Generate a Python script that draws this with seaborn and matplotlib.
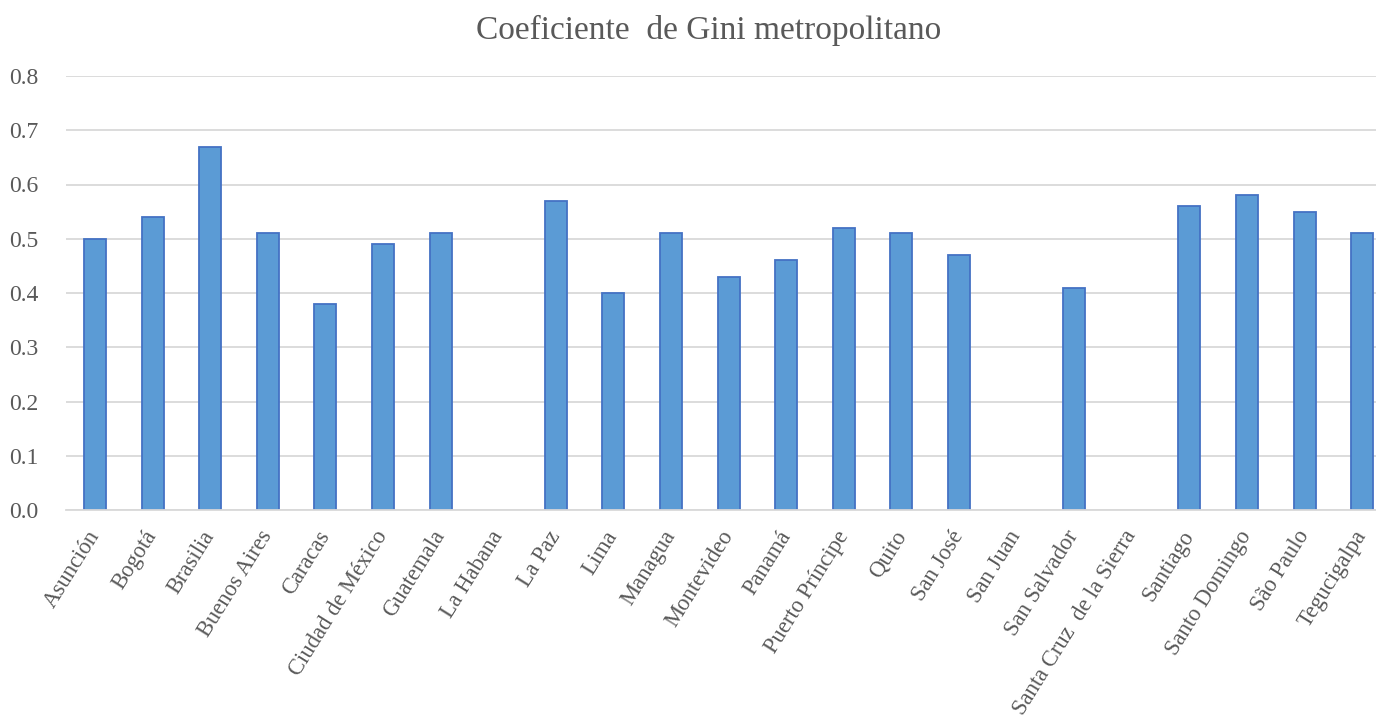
import matplotlib
matplotlib.use("Agg")
import matplotlib.pyplot as plt
import seaborn as sns
import numpy as np
import pandas as pd

cities = ["Asunción", "Bogotá", "Brasilia", "Buenos Aires", "Caracas", "Ciudad de México",
          "Guatemala", "La Habana", "La Paz", "Lima", "Managua", "Montevideo", "Panamá",
          "Puerto Príncipe", "Quito", "San José", "San Juan", "San Salvador",
          "Santa Cruz  de la Sierra", "Santiago", "Santo Domingo", "São Paulo", "Tegucigalpa"]
gini = [0.50, 0.54, 0.67, 0.51, 0.38, 0.49, 0.51, np.nan, 0.57, 0.40, 0.51, 0.43, 0.46,
        0.52, 0.51, 0.47, np.nan, 0.41, np.nan, 0.56, 0.58, 0.55, 0.51]
yticks = [0.0, 0.1, 0.2, 0.3, 0.4, 0.5, 0.6, 0.7, 0.8]
title = "Coeficiente  de Gini metropolitano"

df = pd.DataFrame({"city": cities, "gini": gini})

sns.set_style("white")
plt.rcParams["font.family"] = ["Liberation Serif", "DejaVu Serif"]

W, H = 1376, 724
fig = plt.figure(figsize=(W / 100, H / 100), dpi=100)
left, right = 66.2, 1391.0
top, bottom = 76.0, 510.0
ax = fig.add_axes([left / W, 1 - bottom / H, (right - left) / W, (bottom - top) / H])

sns.barplot(data=df, x="city", y="gini", ax=ax, color="#5B9BD5", width=0.38,
            edgecolor="#4472C4", linewidth=1.3, saturation=1)

ax.set_ylim(0, 0.8)
ax.set_xlim(-0.5, len(cities) - 0.5)
ax.set_yticks(yticks)
ax.set_yticklabels([f"{v:.1f}" for v in yticks])
ax.yaxis.grid(True, color="#D9D9D9", linewidth=1.3)
ax.set_axisbelow(True)
for s in ["top", "right", "left"]:
    ax.spines[s].set_visible(False)
ax.spines["bottom"].set_color("#D9D9D9")
ax.spines["bottom"].set_linewidth(1.3)
ax.tick_params(axis="both", length=0, colors="#595959", labelsize=17)
ax.tick_params(axis="y", pad=20)
ax.tick_params(axis="x", pad=16, labelsize=16.3)
ax.set_xlabel("")
ax.set_ylabel("")
for lab in ax.get_xticklabels():
    lab.set_rotation(58)
    lab.set_ha("right")
    lab.set_va("center")
    lab.set_rotation_mode("anchor")
    lab.set_color("#595959")

fig.text(709 / W, 1 - 30 / H, title, ha="center", va="center", fontsize=24, color="#595959")

fig.savefig("out.png", dpi=100)
